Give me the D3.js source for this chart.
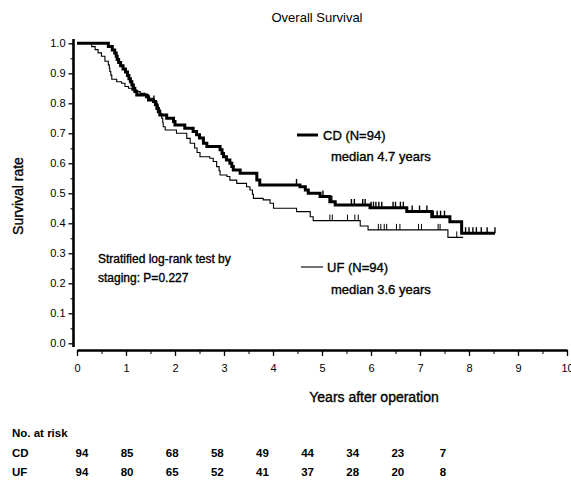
<!DOCTYPE html>
<html>
<head>
<meta charset="utf-8">
<script src="https://cdn.jsdelivr.net/npm/d3@7"></script>
<style>
  body { margin: 0; background: #fff; }
  svg { display: block; font-family: "Liberation Sans", Arial, sans-serif; }
  .heavy { stroke: #000; stroke-width: 0.35; }
</style>
</head>
<body>
<svg id="chart"></svg>
<script>
const width = 571;
const height = 484;

// Kaplan-Meier steps (time in years, survival after the step)
const cdTime = [0, 0.64, 0.72, 0.77, 0.80, 0.82, 0.85, 0.89, 0.94, 0.99, 1.03, 1.06, 1.09, 1.12, 1.15, 1.18, 1.22, 1.42, 1.46, 1.56,
  1.60, 1.63, 1.66, 1.69, 1.83, 1.97, 2.00, 2.20, 2.37, 2.44, 2.50, 2.58, 2.65, 2.92, 2.96, 2.99, 3.05, 3.12, 3.16, 3.19,
  3.33, 3.67, 3.73, 4.55, 4.66, 4.72, 4.96, 5.16, 5.27, 5.98, 6.73, 7.24, 7.61, 7.85];
const cdSurv = [1, 0.989, 0.978, 0.968, 0.957, 0.946, 0.936, 0.925, 0.914, 0.904, 0.893, 0.882, 0.872, 0.861, 0.850, 0.839, 0.828, 0.822, 0.811, 0.806,
  0.795, 0.783, 0.772, 0.761, 0.750, 0.739, 0.728, 0.717, 0.706, 0.695, 0.684, 0.667, 0.656, 0.645, 0.633, 0.622, 0.611, 0.600, 0.589, 0.578,
  0.567, 0.544, 0.528, 0.522, 0.511, 0.500, 0.489, 0.472, 0.461, 0.452, 0.439, 0.422, 0.405, 0.367];
const cdEnd = 8.53;
const cdCensor = [1.57, 4.48, 5.02, 5.20, 5.60, 5.66, 5.83, 5.88, 6.00, 6.05, 6.10, 6.16, 6.22, 6.45, 6.50, 6.60, 6.66,
  6.84, 6.99, 7.14, 7.27, 7.35, 7.42, 7.50, 7.93, 8.00, 8.08, 8.15, 8.25, 8.37, 8.53];

const ufTime = [0, 0.30, 0.37, 0.43, 0.50, 0.57, 0.64, 0.66, 0.67, 0.69, 0.71, 0.81, 0.91, 0.98, 1.05, 1.12, 1.22, 1.29, 1.39, 1.46,
  1.56, 1.63, 1.66, 1.68, 1.70, 1.73, 1.75, 1.76, 1.80, 2.03, 2.24, 2.31, 2.40, 2.45, 2.51, 2.71, 2.78, 2.85, 2.90, 2.92,
  3.06, 3.12, 3.26, 3.46, 3.53, 3.58, 3.60, 3.80, 3.94, 4.01, 4.48, 4.76, 4.82, 5.78, 5.94, 7.57];
const ufSurv = [1, 0.989, 0.979, 0.968, 0.957, 0.940, 0.928, 0.917, 0.906, 0.894, 0.880, 0.872, 0.867, 0.856, 0.850, 0.844, 0.839, 0.833, 0.828, 0.817,
  0.806, 0.794, 0.786, 0.778, 0.766, 0.750, 0.735, 0.722, 0.711, 0.700, 0.683, 0.667, 0.651, 0.636, 0.622, 0.617, 0.606, 0.589, 0.575, 0.561,
  0.556, 0.544, 0.533, 0.522, 0.511, 0.497, 0.483, 0.478, 0.467, 0.450, 0.439, 0.422, 0.409, 0.391, 0.378, 0.353];
const ufEnd = 7.88;
const ufCensor = [5.16, 5.21, 5.52, 5.67, 5.74, 6.15, 6.20, 6.27, 6.32, 6.52, 6.59, 6.97, 7.03, 7.37, 7.41, 7.75];

// number at risk table
const riskYears = [0, 1, 2, 3, 4, 5, 6, 7, 8];
const cdRisk = [94, 85, 68, 58, 49, 44, 34, 23, 7];
const ufRisk = [94, 80, 65, 52, 41, 37, 28, 20, 8];

const xTicks = d3.range(0, 11, 1);
const yTicks = d3.range(0, 1.01, 0.1);

const svg = d3.select("#chart")
  .attr("width", width)
  .attr("height", height);

const x = d3.scaleLinear().domain([0, 10]).range([77, 567]);
const y = d3.scaleLinear().domain([0, 1]).range([343.3, 43.3]);

// y axis
const yAxis = svg.append("g")
  .attr("transform", "translate(73.5,0)")
  .call(d3.axisLeft(y).tickValues(yTicks).tickFormat(d3.format(".1f")).tickSize(5).tickPadding(3));
yAxis.select(".domain").remove();
yAxis.selectAll("text").attr("font-size", 11).attr("font-family", "Liberation Sans, Arial, sans-serif");
yAxis.selectAll("line").attr("stroke-width", 1.3);
svg.append("g")
  .attr("transform", "translate(73.5,0)")
  .call(d3.axisLeft(y).tickValues(d3.range(0.05, 1, 0.1)).tickFormat("").tickSize(3))
  .call(g => g.select(".domain").remove());
svg.append("line")
  .attr("x1", 73.5).attr("x2", 73.5)
  .attr("y1", 39).attr("y2", 347)
  .attr("stroke", "#000").attr("stroke-width", 2.6);

// x axis
const xAxis = svg.append("g")
  .attr("transform", "translate(0,350)")
  .call(d3.axisBottom(x).tickValues(xTicks).tickFormat(d3.format("d")).tickSize(6).tickSizeOuter(0).tickPadding(8));
xAxis.select(".domain").attr("stroke-width", 2.6);
xAxis.selectAll("text").attr("font-size", 11).attr("font-family", "Liberation Sans, Arial, sans-serif");
xAxis.selectAll("line").attr("stroke-width", 1.3);
svg.append("g")
  .attr("transform", "translate(0,350)")
  .call(d3.axisBottom(x).tickValues(d3.range(0.5, 10, 1)).tickFormat("").tickSize(4))
  .call(g => g.select(".domain").remove());

// curves
const stepLine = d3.line()
  .x(d => x(d[0]))
  .y(d => y(d[1]))
  .curve(d3.curveStepAfter);

function points(times, surv, end) {
  const pts = times.map((t, i) => [t, surv[i]]);
  pts.push([end, surv[surv.length - 1]]);
  return pts;
}

function survAt(times, surv, t) {
  const i = d3.bisectRight(times, t) - 1;
  return surv[Math.max(i, 0)];
}

const groups = [
  { time: ufTime, surv: ufSurv, end: ufEnd, censor: ufCensor, width: 1.1, tick: 1 },
  { time: cdTime, surv: cdSurv, end: cdEnd, censor: cdCensor, width: 3, tick: 1.4 }
];

groups.forEach(g => {
  svg.append("path")
    .datum(points(g.time, g.surv, g.end))
    .attr("fill", "none")
    .attr("stroke", "#000")
    .attr("stroke-width", g.width)
    .attr("d", stepLine);

  svg.append("g")
    .selectAll("line")
    .data(g.censor)
    .join("line")
    .attr("x1", d => x(d)).attr("x2", d => x(d))
    .attr("y1", d => y(survAt(g.time, g.surv, d)))
    .attr("y2", d => y(survAt(g.time, g.surv, d)) - 6)
    .attr("stroke", "#000")
    .attr("stroke-width", g.tick);
});

// titles
svg.append("text")
  .attr("x", 317).attr("y", 22)
  .attr("text-anchor", "middle")
  .attr("font-size", 13)
  .text("Overall Survival");

svg.append("text")
  .attr("class", "heavy")
  .attr("transform", "translate(23,196) rotate(-90)")
  .attr("text-anchor", "middle")
  .attr("font-size", 14)
  .text("Survival rate");

svg.append("text")
  .attr("class", "heavy")
  .attr("x", 374).attr("y", 402)
  .attr("text-anchor", "middle")
  .attr("font-size", 14)
  .text("Years after operation");

// legend
svg.append("line")
  .attr("x1", 297).attr("x2", 318).attr("y1", 135).attr("y2", 135)
  .attr("stroke", "#000").attr("stroke-width", 3);
svg.append("text").attr("class", "heavy").attr("x", 323).attr("y", 140).attr("font-size", 13).text("CD (N=94)");
svg.append("text").attr("class", "heavy").attr("x", 331).attr("y", 161).attr("font-size", 13).text("median 4.7 years");

svg.append("line")
  .attr("x1", 301).attr("x2", 323).attr("y1", 267).attr("y2", 267)
  .attr("stroke", "#000").attr("stroke-width", 1.1);
svg.append("text").attr("class", "heavy").attr("x", 327).attr("y", 272).attr("font-size", 13).text("UF (N=94)");
svg.append("text").attr("class", "heavy").attr("x", 331).attr("y", 294).attr("font-size", 13).text("median 3.6 years");

// test annotation
svg.append("text").attr("class", "heavy").attr("x", 98).attr("y", 263).attr("font-size", 12).text("Stratified log-rank test by");
svg.append("text").attr("class", "heavy").attr("x", 98).attr("y", 282).attr("font-size", 12).text("staging: P=0.227");

// number at risk
const riskX = d3.scaleLinear().domain([0, 8]).range([82, 443]);

svg.append("text").attr("x", 12).attr("y", 437).attr("font-size", 11.5).attr("font-weight", "bold").text("No. at risk");

const rows = [
  { label: "CD", values: cdRisk, y: 457 },
  { label: "UF", values: ufRisk, y: 476 }
];

rows.forEach(r => {
  svg.append("text").attr("x", 12).attr("y", r.y).attr("font-size", 11.5).attr("font-weight", "bold").text(r.label);
  svg.append("g")
    .selectAll("text")
    .data(riskYears)
    .join("text")
    .attr("x", d => riskX(d))
    .attr("y", r.y)
    .attr("text-anchor", "middle")
    .attr("font-size", 11.5)
    .attr("font-weight", "bold")
    .text((d, i) => r.values[i]);
});
</script>
</body>
</html>
